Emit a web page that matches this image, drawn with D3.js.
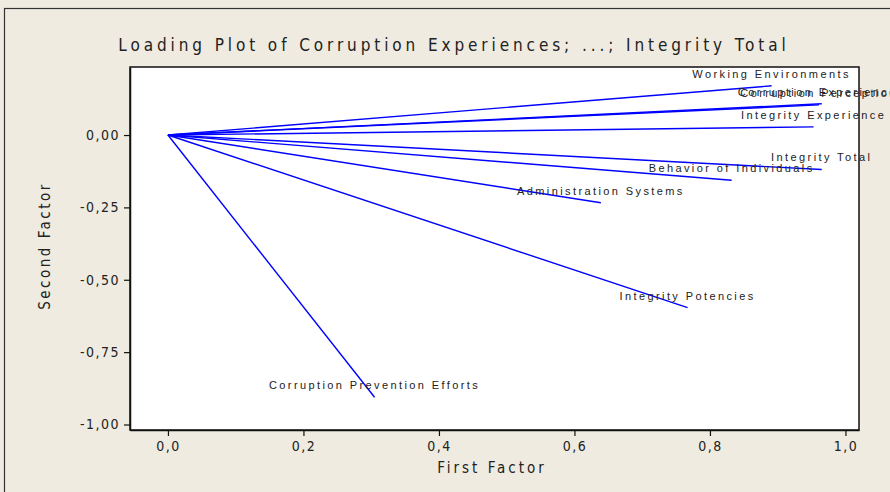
<!DOCTYPE html>
<html>
<head>
<meta charset="utf-8">
<script src="https://cdn.jsdelivr.net/npm/d3@7"></script>
<style>
  body { margin: 0; background: #fff; }
  text { fill: #222; }
</style>
</head>
<body>
<svg id="chart" width="890" height="492"></svg>
<script>
// loadings
var variables = ["Working Environments", "Corruption Experiences", "Corruption Perception",
  "Integrity Experience", "Integrity Total", "Behavior of Individuals",
  "Administration Systems", "Integrity Potencies", "Corruption Prevention Efforts"];
var firstFactor  = [0.891, 0.965, 0.961, 0.953, 0.965, 0.832, 0.639, 0.767, 0.305];
var secondFactor = [0.170, 0.108, 0.104, 0.028, -0.119, -0.156, -0.234, -0.596, -0.906];
var xTicks = [0, 0.2, 0.4, 0.6, 0.8, 1.0];
var yTicks = [0, -0.25, -0.5, -0.75, -1.0];

var svg = d3.select("#chart"),
    width = +svg.attr("width"),
    height = +svg.attr("height");

var narrow = "'Liberation Sans Narrow', 'DejaVu Sans Condensed', 'Liberation Sans', sans-serif";
var plain = "'Liberation Sans', Arial, sans-serif";

// beige background and outer frame
svg.append("rect")
  .attr("x", 0).attr("y", 0).attr("width", width).attr("height", height)
  .attr("fill", "#efebe1");
svg.append("rect")
  .attr("x", 4.5).attr("y", 8.5).attr("width", width + 10).attr("height", height + 10)
  .attr("fill", "none").attr("stroke", "#333").attr("stroke-width", 1.2);

var plot = {left: 130, top: 67, right: 859, bottom: 430};

var x = d3.scaleLinear().domain([-0.056, 1.02]).range([plot.left, plot.right]);
var y = d3.scaleLinear().domain([-1.019, 0.235]).range([plot.bottom, plot.top]);

function comma(f) {
  return function(d) { return d3.format(f)(d).replace(".", ",").replace("\u2212", "-"); };
}

svg.append("rect")
  .attr("x", plot.left).attr("y", plot.top)
  .attr("width", plot.right - plot.left).attr("height", plot.bottom - plot.top)
  .attr("fill", "#fff").attr("stroke", "#111").attr("stroke-width", 1.5);

// axes
var xAxis = svg.append("g")
  .attr("transform", "translate(0," + plot.bottom + ")")
  .call(d3.axisBottom(x).tickValues(xTicks).tickFormat(comma(".1f"))
    .tickSizeInner(6).tickSizeOuter(0).tickPadding(5));
var yAxis = svg.append("g")
  .attr("transform", "translate(" + plot.left + ",0)")
  .call(d3.axisLeft(y).tickValues(yTicks).tickFormat(comma(".2f"))
    .tickSizeInner(6).tickSizeOuter(0).tickPadding(4));

[xAxis, yAxis].forEach(function(a) {
  a.select(".domain").attr("stroke", "#111").attr("stroke-width", 1.5);
  a.selectAll(".tick line").attr("stroke", "#111").attr("stroke-width", 1.2);
  a.selectAll(".tick text")
    .attr("fill", "#222")
    .style("font-family", narrow)
    .style("font-size", "14px")
    .style("letter-spacing", "1.5px");
});

// vectors from the origin
svg.append("g").selectAll("line")
  .data(variables)
  .enter().append("line")
  .attr("x1", x(0)).attr("y1", y(0))
  .attr("x2", function(d, i) { return x(firstFactor[i]); })
  .attr("y2", function(d, i) { return y(secondFactor[i]); })
  .attr("stroke", "#0000ff")
  .attr("stroke-width", 1.4);

// labels above each end point
svg.append("g").selectAll("text")
  .data(variables)
  .enter().append("text")
  .attr("x", function(d, i) { return x(firstFactor[i]); })
  .attr("y", function(d, i) { return y(secondFactor[i]) - 8; })
  .attr("text-anchor", "middle")
  .style("font-family", plain)
  .style("font-size", "11px")
  .style("letter-spacing", "2.4px")
  .text(function(d) { return d; });

// titles
svg.append("text")
  .attr("x", 454).attr("y", 51)
  .attr("text-anchor", "middle")
  .style("font-family", narrow)
  .style("font-size", "17px")
  .style("letter-spacing", "3.9px")
  .text("Loading Plot of Corruption Experiences; ...; Integrity Total");

svg.append("text")
  .attr("x", 492).attr("y", 473)
  .attr("text-anchor", "middle")
  .style("font-family", narrow)
  .style("font-size", "15px")
  .style("letter-spacing", "3px")
  .text("First Factor");

svg.append("text")
  .attr("transform", "translate(50,246) rotate(-90)")
  .attr("text-anchor", "middle")
  .style("font-family", narrow)
  .style("font-size", "15px")
  .style("letter-spacing", "2.5px")
  .text("Second Factor");
</script>
</body>
</html>
